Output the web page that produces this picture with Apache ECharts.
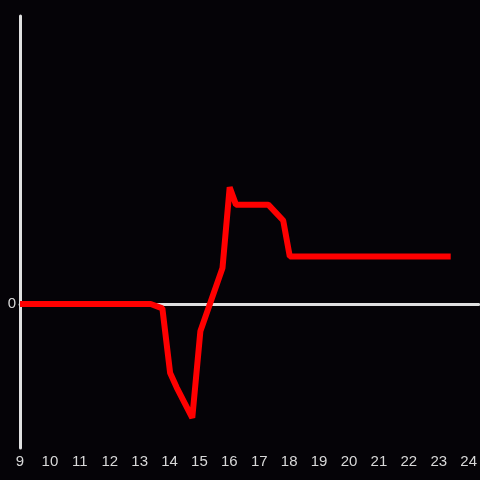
<!DOCTYPE html>
<html><head><meta charset="utf-8">
<script src="https://cdn.jsdelivr.net/npm/echarts@6/dist/echarts.min.js"></script>
<style>html,body{margin:0;padding:0;background:#050307;}#c{width:480px;height:480px;}</style>
</head><body><div id="c"></div>
<script>
var xValues = [9, 13.37, 13.76, 14.02, 14.24, 14.76, 15.03, 15.77, 16.01, 16.22, 17.3, 17.8, 18.02, 23.4];
var yValues = [0, 0, -0.03, -0.48, -0.58, -0.79, -0.19, 0.25, 0.81, 0.69, 0.69, 0.58, 0.33, 0.33];
var xTicks = [9,10,11,12,13,14,15,16,17,18,19,20,21,22,23,24];
var yTicks = [0];

var data = xValues.map(function(x, i){ return [x, yValues[i]]; });
var chart = echarts.init(document.getElementById('c'));
chart.setOption({
  backgroundColor: '#050307',
  animation: false,
  grid: {left: 20, right: 0, top: 16, bottom: 32},
  xAxis: [{
    type: 'value', min: 9, max: 24.333, interval: 1,
    axisLine: {show: false, onZero: false}, axisTick: {show: false}, splitLine: {show: false},
    position: 'bottom',
    axisLabel: {color: '#d8d8d8', fontSize: 15, fontFamily: 'Liberation Sans, Arial, sans-serif', margin: 6,
      showMaxLabel: false,
      formatter: function(v){ return xTicks.indexOf(Math.round(v*1000)/1000) >= 0 ? String(v) : ''; }}
  }, {
    type: 'value', min: 9, max: 24.333, interval: 1,
    axisLine: {show: true, onZero: true, lineStyle: {color: '#e0e0e0', width: 3}},
    axisTick: {show: false}, axisLabel: {show: false}, splitLine: {show: false}
  }],
  yAxis: {
    type: 'value', min: -1, max: 2, interval: 1,
    axisLine: {show: true, lineStyle: {color: '#e0e0e0', width: 3}},
    axisTick: {show: false}, splitLine: {show: false},
    axisLabel: {color: '#d8d8d8', fontSize: 15, fontFamily: 'Liberation Sans, Arial, sans-serif', margin: 4,
      padding: [3, 0, 0, 0],
      formatter: function(v){ return yTicks.indexOf(v) >= 0 ? String(v) : ''; }}
  },
  series: [{
    type: 'line', xAxisIndex: 1, data: data, showSymbol: false, symbol: 'none',
    lineStyle: {color: '#ff0000', width: 6}, z: 5
  }]
});
</script></body></html>
